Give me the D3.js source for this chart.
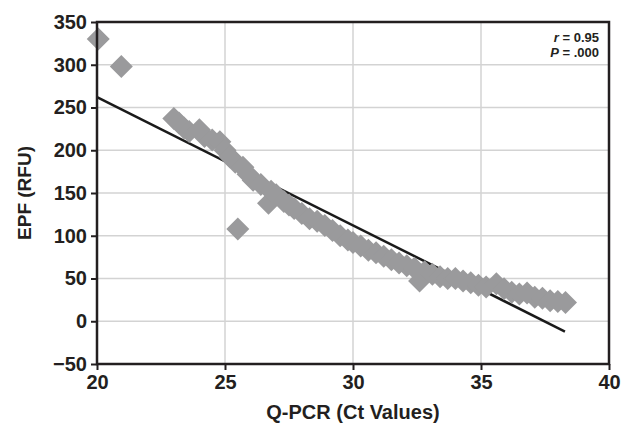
<!DOCTYPE html>
<html><head><meta charset="utf-8">
<script src="https://cdn.jsdelivr.net/npm/d3@7"></script>
<style>
html,body{margin:0;padding:0;background:#fff;}
svg{display:block;}
text{font-family:"Liberation Sans",Arial,Helvetica,sans-serif;font-weight:bold;fill:#231f20;}
</style></head>
<body>
<script>
const ctValues = [20.05,20.95,23.0,23.2,23.4,23.6,24.0,24.2,24.5,24.8,25.0,25.2,25.4,25.7,25.9,26.1,26.4,26.7,26.8,27.0,25.5,27.3,27.5,27.7,28.0,28.3,28.6,28.9,29.2,29.5,29.8,30.0,30.3,30.6,30.9,31.2,31.5,31.8,32.1,32.4,32.6,32.8,33.1,33.4,33.7,34.0,34.3,34.6,34.9,35.2,35.6,35.9,36.2,36.5,36.8,37.1,37.4,37.7,38.0,38.3];
const epfValues = [330,298,237,232,226,222,224,216,212,210,200,192,186,180,172,165,160,138,152,148,108,140,136,132,126,120,117,112,106,100,95,92,88,83,80,76,72,68,65,62,47,58,55,52,50,50,47,45,42,40,44,38,34,32,33,28,27,24,23,22];
const fitLine = {x: [20, 38.28], y: [262, -12]};
const xTicks = [20,25,30,35,40];
const yTicks = [-50,0,50,100,150,200,250,300,350];
const xLabel = "Q-PCR (Ct Values)";
const yLabel = "EPF (RFU)";
const statLines = [["r"," = 0.95"],["P"," = .000"]];

const W=622,H=435;
const m={l:97,r:13,t:22,b:71};
const svg=d3.select("body").append("svg").attr("width",W).attr("height",H);
const x=d3.scaleLinear().domain([20,40]).range([m.l,W-m.r]);
const y=d3.scaleLinear().domain([-50,350]).range([H-m.b,m.t]);

// grid
svg.append("g").selectAll("line").data(xTicks.slice(1,-1)).join("line")
  .attr("x1",d=>x(d)).attr("x2",d=>x(d)).attr("y1",y(350)).attr("y2",y(-50))
  .attr("stroke","#d3d3d3").attr("stroke-width",1.5);
svg.append("g").selectAll("line").data(yTicks.slice(1,-1)).join("line")
  .attr("x1",x(20)).attr("x2",x(40)).attr("y1",d=>y(d)).attr("y2",d=>y(d))
  .attr("stroke","#d3d3d3").attr("stroke-width",1.5);

// regression line
svg.append("line")
  .attr("x1",x(fitLine.x[0])).attr("y1",y(fitLine.y[0]))
  .attr("x2",x(fitLine.x[1])).attr("y2",y(fitLine.y[1]))
  .attr("stroke","#1a1a1a").attr("stroke-width",2.5);

// points (diamonds)
const r=11.5;
const pts=ctValues.map((v,i)=>({x:v,y:epfValues[i]}));
svg.append("g").selectAll("path").data(pts).join("path")
  .attr("d",d=>{const cx=x(d.x),cy=y(d.y);return `M${cx},${cy-r}L${cx+r},${cy}L${cx},${cy+r}L${cx-r},${cy}Z`;})
  .attr("fill","#9a9a9c");

// frame
svg.append("rect").attr("x",x(20)).attr("y",y(350)).attr("width",x(40)-x(20)).attr("height",y(-50)-y(350))
  .attr("fill","none").attr("stroke","#231f20").attr("stroke-width",2.5);

// axes
const xa=svg.append("g").attr("transform",`translate(0,${y(-50)})`)
  .call(d3.axisBottom(x).tickValues(xTicks).tickSize(6).tickPadding(5).tickFormat(d3.format("d")));
const ya=svg.append("g").attr("transform",`translate(${x(20)},0)`)
  .call(d3.axisLeft(y).tickValues(yTicks).tickSize(6).tickPadding(4).tickFormat(d=>d<0?"\u2212"+Math.abs(d):d));
[xa,ya].forEach(g=>{
  g.select(".domain").remove();
  g.selectAll("line").attr("stroke","#231f20").attr("stroke-width",2);
  g.selectAll("text").attr("font-size",20).attr("fill","#231f20").style("font-family","'Liberation Sans',Arial,sans-serif").style("font-weight","bold");
});

// axis labels
svg.append("text").attr("x",(x(20)+x(40))/2).attr("y",419).attr("text-anchor","middle").attr("font-size",20).text(xLabel);
svg.append("text").attr("transform",`translate(31,${(y(350)+y(-50))/2}) rotate(-90)`).attr("text-anchor","middle").attr("font-size",19).text(yLabel);

// stats
const st=svg.append("g");
statLines.forEach((s,i)=>{
  const t=st.append("text").attr("x",599).attr("y",42+i*15).attr("text-anchor","end").attr("font-size",13);
  t.append("tspan").attr("font-style","italic").text(s[0]);
  t.append("tspan").text(s[1]);
});
</script>
</body></html>
